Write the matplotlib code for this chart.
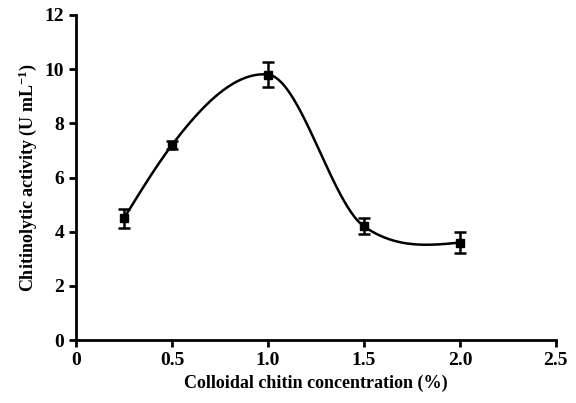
import numpy as np
import matplotlib
matplotlib.use("Agg")
import matplotlib.pyplot as plt

plt.rcParams['font.family'] = ['Liberation Serif', 'DejaVu Serif']
plt.rcParams['mathtext.default'] = 'regular'

# data
conc = np.array([0.25, 0.5, 1.0, 1.5, 2.0])
activity = np.array([4.5, 7.2, 9.8, 4.2, 3.6])
err = np.array([0.35, 0.15, 0.45, 0.3, 0.4])


def smooth_curve(x, y, xs):
    # Akima-type slopes inside, natural ends, cubic Hermite pieces
    h = np.diff(x)
    s = np.diff(y) / h
    n = len(x)
    ext = np.concatenate([[3 * s[0] - 2 * s[1], 2 * s[0] - s[1]], s,
                          [2 * s[-1] - s[-2], 3 * s[-1] - 2 * s[-2]]])
    m = np.zeros(n)
    for i in range(n):
        wl = abs(ext[i + 3] - ext[i + 2])
        wr = abs(ext[i + 1] - ext[i])
        if wl + wr == 0:
            m[i] = 0.5 * (ext[i + 1] + ext[i + 2])
        else:
            m[i] = (wl * ext[i + 1] + wr * ext[i + 2]) / (wl + wr)
    m[0] = (3 * s[0] - m[1]) / 2
    m[-1] = (3 * s[-1] - m[-2]) / 2
    out = np.empty_like(xs)
    for k, t in enumerate(xs):
        i = int(np.clip(np.searchsorted(x, t, side='right') - 1, 0, n - 2))
        u = (t - x[i]) / h[i]
        h00 = 2 * u ** 3 - 3 * u ** 2 + 1
        h10 = u ** 3 - 2 * u ** 2 + u
        h01 = -2 * u ** 3 + 3 * u ** 2
        h11 = u ** 3 - u ** 2
        out[k] = h00 * y[i] + h10 * h[i] * m[i] + h01 * y[i + 1] + h11 * h[i] * m[i + 1]
    return out


fig = plt.figure(figsize=(5.76, 4.03), dpi=100)
ax = fig.add_axes([0.132, 0.156, 0.833, 0.807])

xs = np.linspace(conc[0], conc[-1], 300)
ax.plot(xs, smooth_curve(conc, activity, xs), color='black', lw=1.8)
ax.errorbar(conc, activity, yerr=err, fmt='s', color='black', ms=6,
            elinewidth=1.8, capsize=4, capthick=1.8)

ax.set_xlim(0, 2.5)
ax.set_ylim(0, 12)
ax.set_xticks([0, 0.5, 1.0, 1.5, 2.0, 2.5])
ax.set_xticklabels(['0', '0.5', '1.0', '1.5', '2.0', '2.5'])
ax.set_yticks([0, 2, 4, 6, 8, 10, 12])

for sp in ['top', 'right']:
    ax.spines[sp].set_visible(False)
for sp in ['left', 'bottom']:
    ax.spines[sp].set_linewidth(2)
ax.tick_params(width=2, length=5, labelsize=14)
for lbl in ax.get_xticklabels() + ax.get_yticklabels():
    lbl.set_fontweight('bold')

ax.set_xlabel('Colloidal chitin concentration (%)', fontsize=13, fontweight='bold')
ax.set_ylabel('Chitinolytic activity (U mL$^{-1}$)', fontsize=13, fontweight='bold')

fig.savefig('out.png', dpi=100)
